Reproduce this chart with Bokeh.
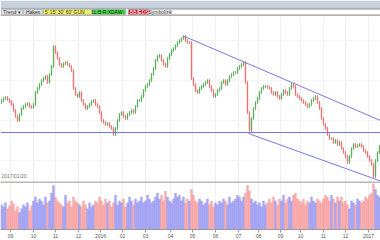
from bokeh.plotting import figure
from bokeh.layouts import column
from bokeh.models import ColumnDataSource, Range1d, FixedTicker, Span, Label
from bokeh.embed import file_html
from bokeh.resources import INLINE
from bokeh.core.properties import value

# ---------------- data ----------------
first_open = 98
close = [
    100, 102, 103, 101, 99, 96, 90, 84, 80, 86,
    92, 94, 96, 97, 94, 93, 96, 108, 112, 116,
    120, 122, 124, 118, 126, 134, 154, 148, 142, 136,
    134, 137, 138, 136, 134, 130, 112, 106, 104, 108,
    100, 96, 92, 94, 96, 99, 100, 96, 94, 88,
    80, 78, 76, 77, 74, 72, 66, 72, 80, 86,
    88, 84, 82, 86, 88, 90, 88, 94, 100, 100,
    104, 110, 114, 116, 120, 126, 132, 140, 144, 145,
    140, 136, 134, 142, 146, 150, 152, 155, 158, 160,
    162, 164, 160, 158, 158, 122, 116, 110, 108, 112,
    114, 116, 118, 120, 114, 110, 104, 106, 110, 112,
    118, 120, 116, 120, 124, 126, 128, 128, 132, 134,
    136, 138, 118, 88, 70, 82, 92, 98, 102, 108,
    112, 114, 114, 113, 112, 108, 106, 108, 104, 102,
    106, 110, 108, 106, 112, 116, 114, 106, 104, 102,
    100, 98, 96, 94, 96, 100, 102, 104, 98, 92,
    82, 76, 72, 66, 62, 62, 58, 60, 56, 58,
    52, 48, 44, 38, 44, 52, 56, 54, 55, 56,
    54, 50, 48, 44, 40, 36, 24, 40, 48, 54,
]
volume = [
    26, 24, 28, 22, 25, 30, 27, 20, 24, 18,
    22, 26, 24, 28, 20, 25, 30, 34, 28, 32,
    30, 26, 34, 28, 30, 38, 46, 34, 30, 28,
    26, 24, 36, 28, 30, 24, 34, 30, 28, 26,
    24, 30, 26, 22, 28, 24, 26, 30, 28, 34,
    30, 26, 32, 28, 30, 24, 28, 36, 26, 30,
    28, 32, 24, 28, 34, 30, 26, 32, 28, 30,
    34, 28, 30, 36, 32, 28, 30, 34, 38, 32,
    36, 30, 40, 34, 30, 28, 32, 38, 34, 36,
    30, 34, 28, 32, 30, 42, 36, 30, 28, 32,
    30, 26, 28, 32, 26, 30, 24, 28, 26, 30,
    28, 32, 30, 26, 34, 28, 30, 32, 36, 34,
    30, 34, 38, 46, 40, 32, 28, 30, 26, 28,
    24, 30, 26, 28, 32, 28, 34, 30, 26, 32,
    30, 36, 28, 32, 34, 30, 36, 38, 32, 30,
    28, 32, 26, 30, 28, 34, 30, 28, 32, 30,
    28, 32, 36, 34, 30, 36, 32, 28, 34, 30,
    34, 28, 30, 26, 22, 30, 28, 26, 32, 30,
    28, 30, 34, 32, 36, 38, 48, 42, 36, 34,
]
month_labels = ["09", "10", "11", "12", "2016", "02", "03", "04", "05",
                "06", "07", "08", "09", "10", "11", "12", "2017"]
month_start = [4.5, 16, 27, 38.5, 49.5, 60.5, 72, 84.5, 95.5,
               107, 118.5, 128.5, 139.5, 149.5, 161, 172, 183.5]
upper_trend_x = [91, 189.5]
upper_trend_y = [164.5, 80]
lower_trend_x = [123.5, 189.5]
lower_trend_y = [67, 19.5]
support_level = 68
date_text = "2017/01/20"

# ---------------- derived ----------------
n = len(close)
idx = list(range(n))
opens = [first_open] + close[:-1]
wick = 1.5
up = [c >= o for o, c in zip(opens, close)]
highs = [max(o, c) + wick for o, c in zip(opens, close)]
lows = [min(o, c) - wick for o, c in zip(opens, close)]
cndl_col = ["#5aae5a" if u else "#ef7070" for u in up]
vol_col = ["#8a8af2" if u else "#f59090" for u in up]

src = ColumnDataSource(dict(x=idx, o=opens, c=close, h=highs, l=lows,
                            col=cndl_col, v=volume, vcol=vol_col))

FONT = "Liberation Sans"

# ---------------- toolbar strip ----------------
tb = figure(width=380, height=16, x_range=Range1d(0, 380), y_range=Range1d(16, 0),
            toolbar_location=None, output_backend="svg", min_border=0)
tb.axis.visible = False
tb.grid.visible = False
tb.outline_line_color = None
tb.background_fill_color = "#ffffff"
tb.quad(left=[0, 0, 0, 0], right=[380, 380, 380, 380], top=[0, 7, 8.5, 14.5],
        bottom=[7, 8.5, 14.5, 15.5],
        fill_color=["#c8d2de", "#a8b0bc", "#e6eaee", "#b4b4ac"], line_color=None)
btn_l = [1, 23, 43, 92, 128, 138, 149, 171]
btn_r = [22, 42, 91, 125, 137, 148, 170, 380]
btn_c = ["#e2e2e2", "#dadada", "#eeee66", "#44cc44", "#cc2233", "#cc2233", "#e8e8e8", "#ffffff"]
btn_t = ["Trend \u25be", "Hakes", "5'  15'  30'  60'  GUN", "1L  B  R  XDAW", "BB", "EDS",
         "Symbolize", ""]
tb.quad(left=btn_l, right=btn_r, top=[9] * 8, bottom=[14] * 8, fill_color=btn_c,
        line_color="#9a9a9a", line_width=0.5)
tb.text(x=[(a + b) / 2 for a, b in zip(btn_l, btn_r)], y=[11.8] * 8, text=btn_t,
        text_font=value(FONT), text_font_size="5px", text_align="center",
        text_baseline="middle",
        text_color=["#333333", "#333333", "#444400", "#114411", "#ffdddd", "#ffdddd",
                    "#555555", "#555555"])

# ---------------- price chart ----------------
p = figure(width=380, height=165, x_range=Range1d(-0.5, 189.5), y_range=Range1d(19, 184),
           toolbar_location=None, output_backend="svg", min_border=0)
p.axis.visible = False
p.outline_line_color = None
p.xgrid.ticker = FixedTicker(ticks=month_start)
p.xgrid.grid_line_color = "#f0f0f0"
p.ygrid.ticker = FixedTicker(ticks=[40, 80, 120, 160])
p.ygrid.grid_line_color = "#f4f4f4"
p.segment(x0="x", y0="h", x1="x", y1="l", color="col", line_width=0.8, source=src)
p.vbar(x="x", top="o", bottom="c", width=0.45, fill_color="col", line_color="col",
       line_width=0.4, source=src)
p.line(upper_trend_x, upper_trend_y, color="#7878e4", line_width=1)
p.line(lower_trend_x, lower_trend_y, color="#7878e4", line_width=1)
p.add_layout(Span(location=support_level, dimension="width", line_color="#7878e4",
                  line_width=1))
p.add_layout(Label(x=1, y=3, x_units="screen", y_units="screen", text=date_text,
                   text_font=FONT, text_font_size="5px", text_color="#777777"))

# ---------------- volume ----------------
v = figure(width=380, height=59, x_range=p.x_range, y_range=Range1d(0, 50),
           toolbar_location=None, output_backend="svg", min_border=0)
v.yaxis.visible = False
v.outline_line_color = None
v.ygrid.visible = False
v.xgrid.ticker = FixedTicker(ticks=month_start)
v.xgrid.grid_line_color = "#f0f0f0"
v.vbar(x="x", top="v", bottom=0, width=1.2, fill_color="vcol", line_color=None,
       fill_alpha=0.75, source=src)
v.add_layout(Span(location=49.5, dimension="width", line_color="#a0a0a0", line_width=1.5))
v.xaxis.ticker = FixedTicker(ticks=month_start)
v.xaxis.major_label_overrides = {t: s for t, s in zip(month_start, month_labels)}
v.xaxis.major_label_text_font = FONT
v.xaxis.major_label_text_font_size = "5px"
v.xaxis.major_label_text_color = "#555555"
v.xaxis.major_label_standoff = 1
v.xaxis.major_tick_in = 0
v.xaxis.major_tick_out = 3
v.xaxis.minor_tick_line_color = None
v.xaxis.axis_line_color = "#999999"
v.xaxis.major_tick_line_color = "#999999"

layout = column(tb, p, v, spacing=0)
open("out.html", "w").write(file_html(layout, INLINE))
